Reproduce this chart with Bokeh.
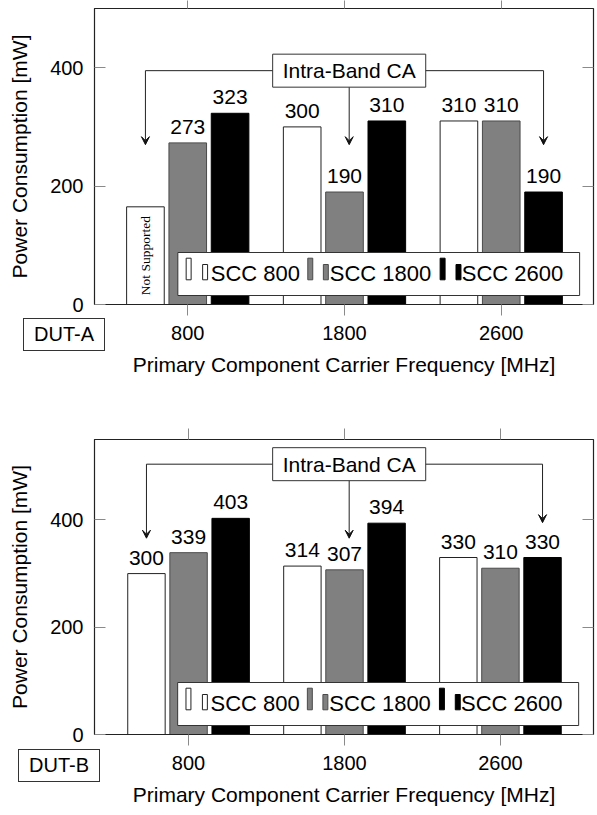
import math
from bokeh.plotting import figure
from bokeh.models import (ColumnDataSource, FixedTicker, LinearAxis, Range1d,
                          Label, LabelSet, Arrow, VeeHead, Div)
from bokeh.layouts import column
from bokeh.embed import file_html
from bokeh.resources import INLINE
from bokeh.core.properties import value

# ---------------- data ----------------
pcc_labels = ["800", "1800", "2600"]            # primary component carrier
scc_names = ["SCC 800", "SCC 1800", "SCC 2600"]  # secondary component carrier
y_ticks = [0, 200, 400]

# DUT-A (None = not supported)
dut_a_scc800 = [None, 300, 310]
dut_a_scc1800 = [273, 190, 310]
dut_a_scc2600 = [323, 310, 190]
dut_a_not_supported_bar = 165

# DUT-B
dut_b_scc800 = [300, 314, 330]
dut_b_scc1800 = [339, 307, 310]
dut_b_scc2600 = [403, 394, 330]

# ---------------- style ----------------
FONT_NAME = "Liberation Sans"
FONT = value(FONT_NAME)
SERIF = value("Liberation Serif")
fills = ["#ffffff", "#808080", "#000000"]
lines = ["#222222", "#4a4a4a", "#000000"]
offsets = [-0.27, 0.0, 0.27]
BAR_W = 0.24
TICK_COLOR = "#8a8a8a"
FRAME_COLOR = "#222222"


def make_chart(series, ymax, border_left, frame_w, border_right, border_top, frame_h,
               border_bottom, px_per_cat, cat0_px, ca_line_y, arrow_tips,
               arrow_xs, top_tick_len, not_supported=None):
    x_start = -cat0_px / px_per_cat
    x_end = x_start + frame_w / px_per_cat
    ppy = frame_h / ymax
    fig_h = border_top + frame_h + border_bottom

    p = figure(width=border_left + frame_w + border_right, height=fig_h,
               x_range=Range1d(x_start, x_end), y_range=Range1d(0, ymax),
               output_backend="svg", toolbar_location=None,
               min_border_left=border_left, min_border_right=border_right,
               min_border_top=border_top, min_border_bottom=border_bottom)
    p.xgrid.visible = False
    p.ygrid.visible = False
    p.outline_line_color = FRAME_COLOR
    p.outline_line_width = 1.2
    p.background_fill_color = "white"
    p.border_fill_color = "white"

    # x axis
    xa = p.xaxis[0]
    xa.ticker = FixedTicker(ticks=[0, 1, 2])
    xa.major_label_overrides = {i: lab for i, lab in enumerate(pcc_labels)}
    xa.major_tick_out = 11
    xa.major_tick_in = 0
    xa.minor_tick_line_color = None
    xa.major_tick_line_color = TICK_COLOR
    xa.axis_line_color = FRAME_COLOR
    xa.major_label_text_font = FONT_NAME
    xa.major_label_text_font_size = "20px"
    xa.major_label_text_color = "black"
    xa.major_label_standoff = 10
    xa.axis_label = "Primary Component Carrier Frequency [MHz]"
    xa.axis_label_text_font = FONT_NAME
    xa.axis_label_text_font_size = "21px"
    xa.axis_label_text_font_style = "normal"
    xa.axis_label_text_color = "black"
    xa.axis_label_standoff = 10

    # y axis
    ya = p.yaxis[0]
    ya.ticker = FixedTicker(ticks=y_ticks)
    ya.major_tick_in = 11
    ya.major_tick_out = 0
    ya.minor_tick_line_color = None
    ya.major_tick_line_color = TICK_COLOR
    ya.axis_line_color = FRAME_COLOR
    ya.major_label_text_font = FONT_NAME
    ya.major_label_text_font_size = "20px"
    ya.major_label_text_color = "black"
    ya.major_label_standoff = 11
    ya.axis_label = "Power Consumption [mW]"
    ya.axis_label_text_font = FONT_NAME
    ya.axis_label_text_font_size = "21px"
    ya.axis_label_text_font_style = "normal"
    ya.axis_label_text_color = "black"
    ya.axis_label_standoff = 16

    # right inner ticks (no labels)
    ra = LinearAxis(ticker=FixedTicker(ticks=y_ticks), major_tick_in=11, major_tick_out=0,
                    major_label_overrides={t: "" for t in y_ticks},
                    major_label_text_font_size="0px", major_label_standoff=0,
                    minor_tick_line_color=None, major_tick_line_color=TICK_COLOR,
                    axis_line_color=None)
    p.add_layout(ra, "right")
    # top outer ticks (no labels)
    ta = LinearAxis(ticker=FixedTicker(ticks=[0, 1, 2]), major_tick_in=0,
                    major_tick_out=top_tick_len,
                    major_label_overrides={t: "" for t in [0, 1, 2]},
                    major_label_text_font_size="0px", major_label_standoff=0,
                    minor_tick_line_color=None, major_tick_line_color=TICK_COLOR,
                    axis_line_color=None)
    p.add_layout(ta, "above")

    # bars + value labels
    for k, vals in enumerate(series):
        xs, tops, lx, ly, lt = [], [], [], [], []
        for i, v in enumerate(vals):
            x = i + offsets[k]
            h = v if v is not None else not_supported
            xs.append(x)
            tops.append(h)
            if v is not None:
                lx.append(x)
                ly.append(v)
                lt.append(str(v))
        p.vbar(x=xs, top=tops, bottom=0, width=BAR_W, fill_color=fills[k],
               line_color=lines[k], line_width=1)
        src = ColumnDataSource(dict(x=lx, y=ly, t=lt))
        p.add_layout(LabelSet(x="x", y="y", text="t", source=src, y_offset=9,
                              text_align="center", text_baseline="alphabetic",
                              text_font=FONT, text_font_size="21px", text_color="black"))

    if not_supported is not None:
        p.text(x=[offsets[0]], y=[not_supported / 2], text=["Not Supported"],
               angle=math.pi / 2, text_align="center", text_baseline="middle",
               text_font=SERIF, text_font_size="13.5px", text_color="black")

    # legend (manual: two bars per entry, like pgfplots ybar legend)
    def fx(px):
        return x_start + px / px_per_cat

    def fy(py):
        return py / ppy

    lg_l, lg_r, lg_b, lg_t = 84, 489, 9, 52
    p.quad(left=[fx(lg_l)], right=[fx(lg_r)], bottom=[fy(lg_b)], top=[fy(lg_t)],
           fill_color="white", line_color="#333333", line_width=1)
    tall_dx = [8.4, 131.0, 264.4]
    short_dx = [25.0, 146.7, 280.4]
    text_dx = [33.2, 153.2, 286.2]
    tx, ty = [], []
    for k in range(3):
        a = lg_l + tall_dx[k]
        b = lg_l + short_dx[k]
        p.quad(left=[fx(a), fx(b)], right=[fx(a + 5), fx(b + 5)],
               bottom=[fy(24.7), fy(24.7)], top=[fy(46.3), fy(40)],
               fill_color=fills[k], line_color=lines[k], line_width=1)
        tx.append(fx(lg_l + text_dx[k]))
        ty.append(fy(23.5))
    lsrc = ColumnDataSource(dict(x=tx, y=ty, t=scc_names))
    p.add_layout(LabelSet(x="x", y="y", text="t", source=lsrc,
                          text_align="left", text_baseline="alphabetic",
                          text_font=FONT, text_font_size="22px", text_color="black"))

    # Intra-Band CA annotation
    p.line(x=[arrow_xs[0], arrow_xs[2]], y=[ca_line_y, ca_line_y],
           line_color="#222222", line_width=1)
    for ax, tip in zip(arrow_xs, arrow_tips):
        p.add_layout(Arrow(end=VeeHead(size=8, fill_color="#111111", line_color="#111111",
                                       line_width=1),
                           x_start=ax, y_start=ca_line_y, x_end=ax, y_end=tip,
                           line_color="#222222", line_width=1))
    p.add_layout(Label(x=arrow_xs[1], y=ca_line_y, text="Intra-Band CA",
                       text_align="center", text_baseline="middle",
                       text_font=FONT_NAME, text_font_size="21px", text_color="black",
                       background_fill_color="white", border_line_color="#333333",
                       border_line_width=1, padding=(10, 5)))
    return p


def dut_box(name, left, top):
    # device name box at the lower-left corner, outside the plot frame
    return Div(text=name, margin=0,
               styles={"position": "absolute", "left": f"{left}px", "top": f"{top}px",
                       "border": "1px solid #333333", "padding": "3px 10px",
                       "font-family": FONT_NAME, "font-size": "20px",
                       "line-height": "25px", "background": "white", "color": "black",
                       "z-index": "5", "white-space": "nowrap"})


top = make_chart([dut_a_scc800, dut_a_scc1800, dut_a_scc2600], 500,
                 border_left=94, frame_w=503, border_right=0, border_top=8, frame_h=296,
                 border_bottom=90, px_per_cat=158, cat0_px=94, ca_line_y=395,
                 arrow_tips=[270, 270, 270], arrow_xs=[-0.27, 1.03, 2.27],
                 top_tick_len=8, not_supported=dut_a_not_supported_bar)
bottom = make_chart([dut_b_scc800, dut_b_scc1800, dut_b_scc2600], 550,
                    border_left=89, frame_w=504, border_right=4, border_top=45, frame_h=295,
                    border_bottom=79, px_per_cat=157.5, cat0_px=95, ca_line_y=504,
                    arrow_tips=[366, 366, 395], arrow_xs=[-0.27, 1.03, 2.27],
                    top_tick_len=11)

layout = column(top, bottom, dut_box("DUT-A", 23, 318), dut_box("DUT-B", 18, 749), spacing=0)
open("out.html", "w").write(file_html(layout, INLINE))
